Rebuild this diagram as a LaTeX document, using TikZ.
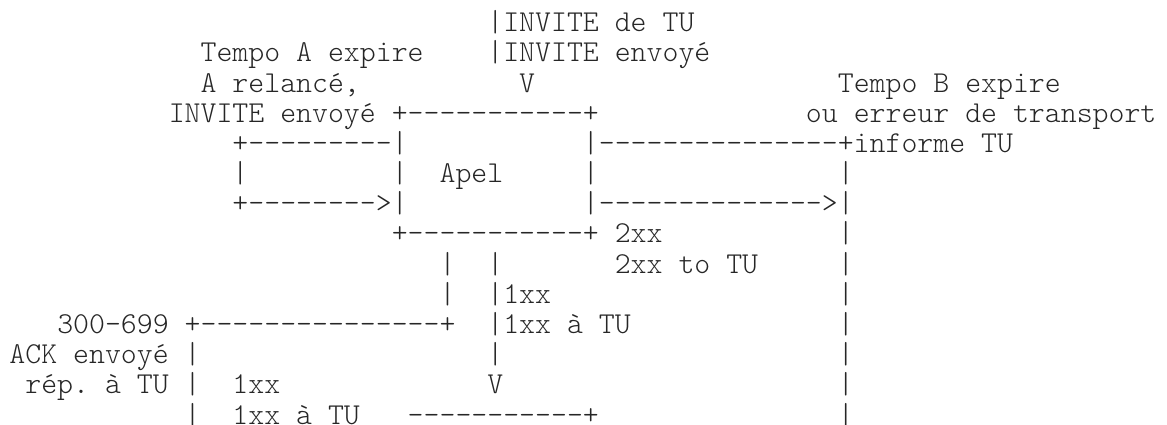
\documentclass[tikz,border=0pt]{standalone}
\usepackage{fontspec}
\setmonofont{Latin Modern Mono Light}

\begin{document}
\begin{tikzpicture}[x=7.965pt,y=-15.09pt]
\tikzstyle{every node}+=[inner sep=0pt,outer sep=0pt,anchor=base west,text=black!85,font=\ttfamily\frenchspacing\fontsize{15.17pt}{15.09pt}\selectfont]
\useasboundingbox (0.406,-0.05) rectangle (73.664,14.032);
\node (invtu) at (31,1) {|INVITE de TU};
\node (tempoa) at (13,2) {Tempo A expire};
\node (invenv) at (31,2) {|INVITE envoy\'e};
\node (relance) at (13,3) {A relanc\'e,};
\node (invarr) at (33,3) {V};
\node (tempob) at (53,3) {Tempo B expire};
\node (relenv) at (11,4) {INVITE envoy\'e};
\node (apeltop) at (25,4) {+-----------+};
\node (errtr) at (51,4) {ou erreur de transport};
\node (loopatop) at (15,5) {+---------|};
\node (errtop) at (37,5) {|---------------+informe TU};
\node (loopamid) at (15,6) {|};
\node (apelleft) at (25,6) {|};
\node (apel) at (28,6) {Apel};
\node (apelright) at (37,6) {|};
\node (errmid) at (53,6) {|};
\node (loopabot) at (15,7) {+-------->|};
\node (errbot) at (37,7) {|-------------->|};
\node (apelbot) at (25,8) {+-----------+};
\node (ok) at (39,8) {2xx};
\node (errr8) at (53,8) {|};
\node (failv9) at (28,9) {|};
\node (provv9) at (31,9) {|};
\node (oktu) at (39,9) {2xx to TU};
\node (errr9) at (53,9) {|};
\node (failv10) at (28,10) {|};
\node (prov) at (31,10) {|1xx};
\node (errr10) at (53,10) {|};
\node (fail) at (4,11) {300-699};
\node (failh) at (12,11) {+---------------+};
\node (provtu) at (31,11) {|1xx \`a TU};
\node (errr11) at (53,11) {|};
\node (ack) at (1,12) {ACK envoy\'e};
\node (failv12) at (12,12) {|};
\node (provv12) at (31,12) {|};
\node (errr12) at (53,12) {|};
\node (reptu) at (2,13) {r\'ep. \`a TU};
\node (failv13) at (12,13) {|};
\node (provp) at (15,13) {1xx};
\node (provarr) at (31,13) {V};
\node (errr13) at (53,13) {|};
\node (failv14) at (12,14) {|};
\node (provptu) at (15,14) {1xx \`a TU};
\node (procstop) at (26,14) {-----------+};
\node (errr14) at (53,14) {|};
\end{tikzpicture}
\end{document}
